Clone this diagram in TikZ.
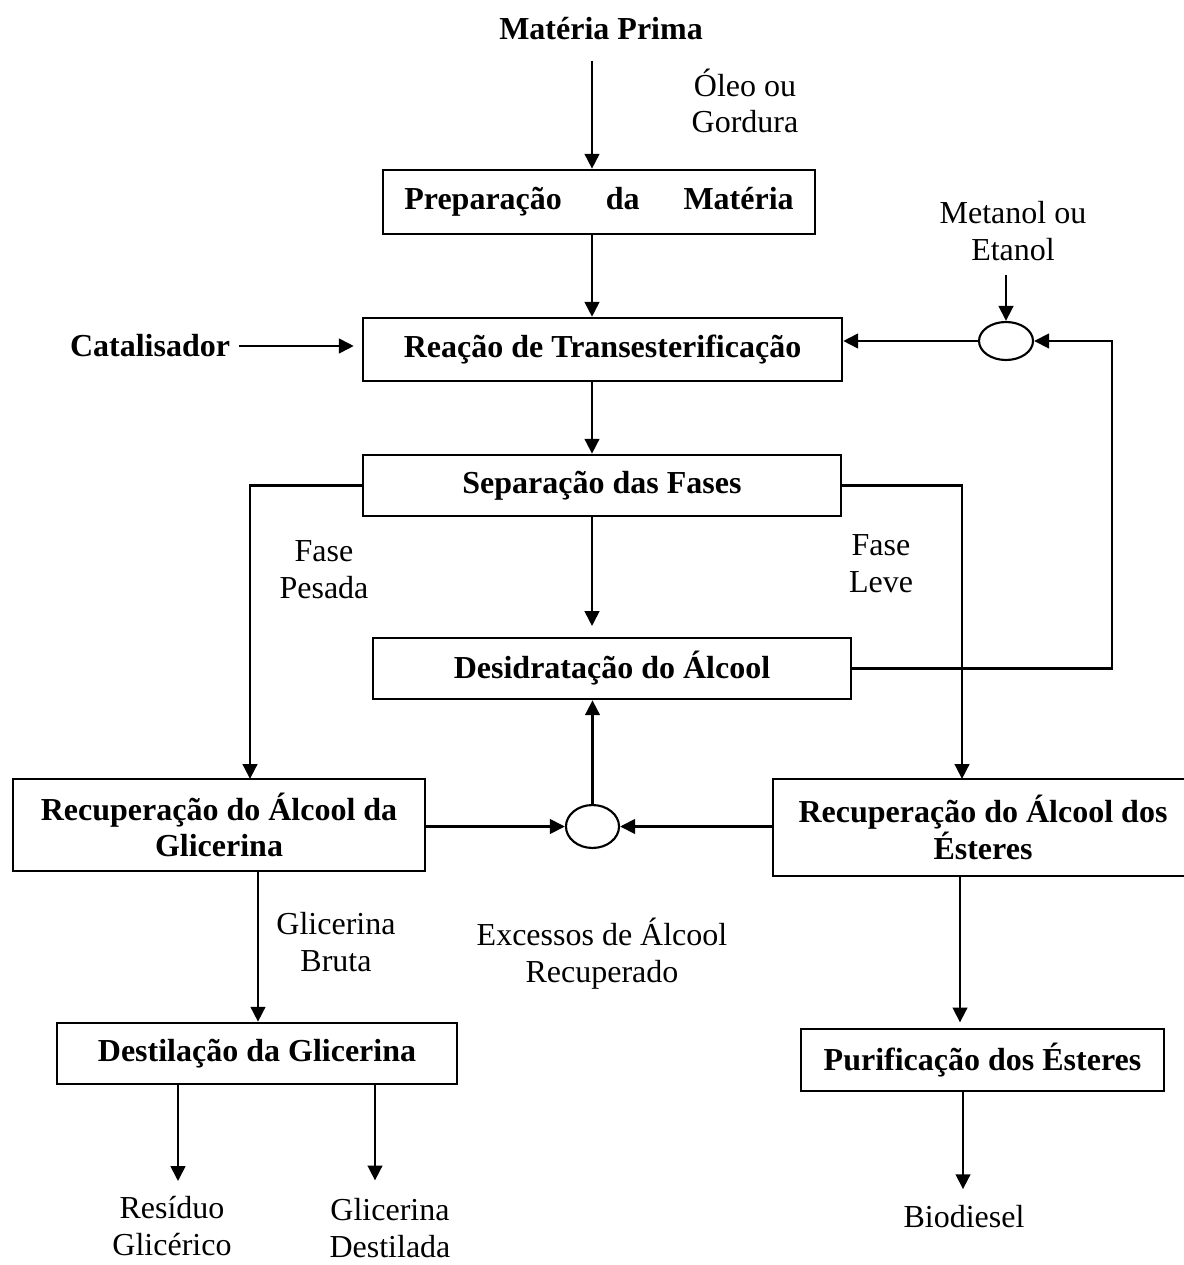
\documentclass[tikz,border=0pt]{standalone}
\usepackage{fontspec}
\setmainfont{Liberation Serif}
\usetikzlibrary{arrows.meta,calc,positioning,shapes.geometric}

\begin{document}
\begin{tikzpicture}[
  x=0.375pt,y=-0.375pt,
  >=Triangle,
  line/.style={draw=black,line width=1.1pt},
  arr/.style={-{Triangle[length=5.6pt,width=5.4pt]},draw=black,line width=1.1pt},
  procbox/.style={rectangle,draw=black,line width=0.9pt,inner sep=0pt,align=center,font=\fontsize{12}{13.8}\selectfont\bfseries},
  mixnode/.style={ellipse,draw=black,line width=0.8pt,inner sep=0pt,fill=white},
  textnode/.style={align=center,inner sep=0pt,font=\fontsize{12}{13.8}\selectfont},
  boldlab/.style={inner sep=0pt,font=\fontsize{12}{13.8}\selectfont\bfseries}
]

% ---------------- geometry (pixel grid of the page) ----------------
\def\xMain{592}
\def\xLeft{250}
\def\xRight{962}
\def\xGli{258}
\def\xEst{960}
\def\xRes{178}
\def\xDest{375}
\def\xBio{963}
\def\xBack{1112}

\useasboundingbox (0,0) rectangle (1183,1265);

\coordinate (cMain)  at (\xMain,0);
\coordinate (cLeft)  at (\xLeft,0);
\coordinate (cRight) at (\xRight,0);
\coordinate (cGli)   at (\xGli,0);
\coordinate (cEst)   at (\xEst,0);
\coordinate (cRes)   at (\xRes,0);
\coordinate (cDest)  at (\xDest,0);
\coordinate (cBio)   at (\xBio,0);
\coordinate (cBack)  at (\xBack,0);

% ---------------- raw material and reaction ----------------
\node[boldlab] (mp) at (601,29) {Matéria Prima};
\coordinate (mpEnd) at (\xMain,61);
\node[textnode] (oleo) at (745,101) {Óleo ou\\Gordura};

\node[procbox,minimum width=162pt,minimum height=24pt] (prep) at (599,202)
  {\hbox to 146pt{Preparação\hfill da\hfill Matéria}};
\node[procbox,minimum width=179.6pt,minimum height=23.6pt] (reac) at (602.5,349.5)
  {Reação de Transesterificação};
\node[boldlab] (cat) at (150,346) {Catalisador};

\node[textnode] (met) at (1013,231) {Metanol ou\\Etanol};
\node[mixnode,minimum width=20.25pt,minimum height=14.25pt] (mixR) at (1006,341) {};

\draw[arr] (mpEnd) -- (prep.north -| mpEnd);
\draw[arr] (prep.south -| cMain) -- (reac.north -| cMain);
\draw[arr,shorten <=3pt,shorten >=3pt] (cat.east) -- (reac.west |- cat.east);
\draw[arr,shorten <=5pt] (met.south -| mixR.north) -- (mixR.north);
\draw[arr] (mixR.west) -- (reac.east |- mixR.west);

% ---------------- phase separation ----------------
\node[procbox,minimum width=179.25pt,minimum height=22.9pt] (sep) at (602,485.5)
  {Separação das Fases};
\node[textnode] (pesada) at (324,570) {Fase\\Pesada};
\node[textnode] (leve) at (881,564) {Fase\\Leve};
\node[procbox,minimum width=179.25pt,minimum height=22.9pt] (desid) at (612,668.5)
  {Desidratação do Álcool};

\draw[arr] (reac.south -| cMain) -- (sep.north -| cMain);
\draw[arr,shorten >=4pt] (sep.south -| cMain) -- (desid.north -| cMain);
\draw[arr] (sep.west) -| (cLeft |- 0,779);
\draw[arr] (sep.east) -| (cRight |- 0,779);
\draw[arr] (desid.east) -- (desid.east -| cBack) |- (mixR.east);

% ---------------- alcohol recovery ----------------
\node[procbox,minimum width=154.5pt,minimum height=34.5pt] (recA) at (219,825)
  {Recuperação do Álcool da\\Glicerina};
\node[procbox,minimum width=157.5pt,minimum height=36.4pt] (recE) at (983,827.5)
  {Recuperação do Álcool dos\\Ésteres};
\node[mixnode,minimum width=19.9pt,minimum height=16.1pt] (mixC) at (592.5,826.5) {};

\node[textnode] (bruta) at (336,942) {Glicerina\\Bruta};
\node[textnode] (exc) at (602,954) {Excessos de Álcool\\Recuperado};

\draw[arr] (mixC.north) -- (desid.south -| mixC.north);
\draw[arr] (recA.east |- mixC.west) -- (mixC.west);
\draw[arr] (recE.west |- mixC.east) -- (mixC.east);

% ---------------- glycerol and esters ----------------
\node[procbox,minimum width=150pt,minimum height=22.9pt] (dest) at (257,1053.5)
  {Destilação da Glicerina};
\node[procbox,minimum width=136.1pt,minimum height=23.25pt] (puri) at (982.5,1060)
  {Purificação dos Ésteres};

\node[textnode] (res) at (172,1226) {Resíduo\\Glicérico};
\node[textnode] (gdest) at (390,1228) {Glicerina\\Destilada};
\node[textnode] (bio) at (964,1217) {Biodiesel};

\draw[arr] (recA.south -| cGli) -- (dest.north -| cGli);
\draw[arr,shorten >=2pt] (recE.south -| cEst) -- (puri.north -| cEst);
\draw[arr,shorten >=5.5pt] (dest.south -| cRes) -- (res.north -| cRes);
\draw[arr,shorten >=6.5pt] (dest.south -| cDest) -- (gdest.north -| cDest);
\draw[arr,shorten >=6pt] (puri.south -| cBio) -- (bio.north -| cBio);

\end{tikzpicture}
\end{document}
